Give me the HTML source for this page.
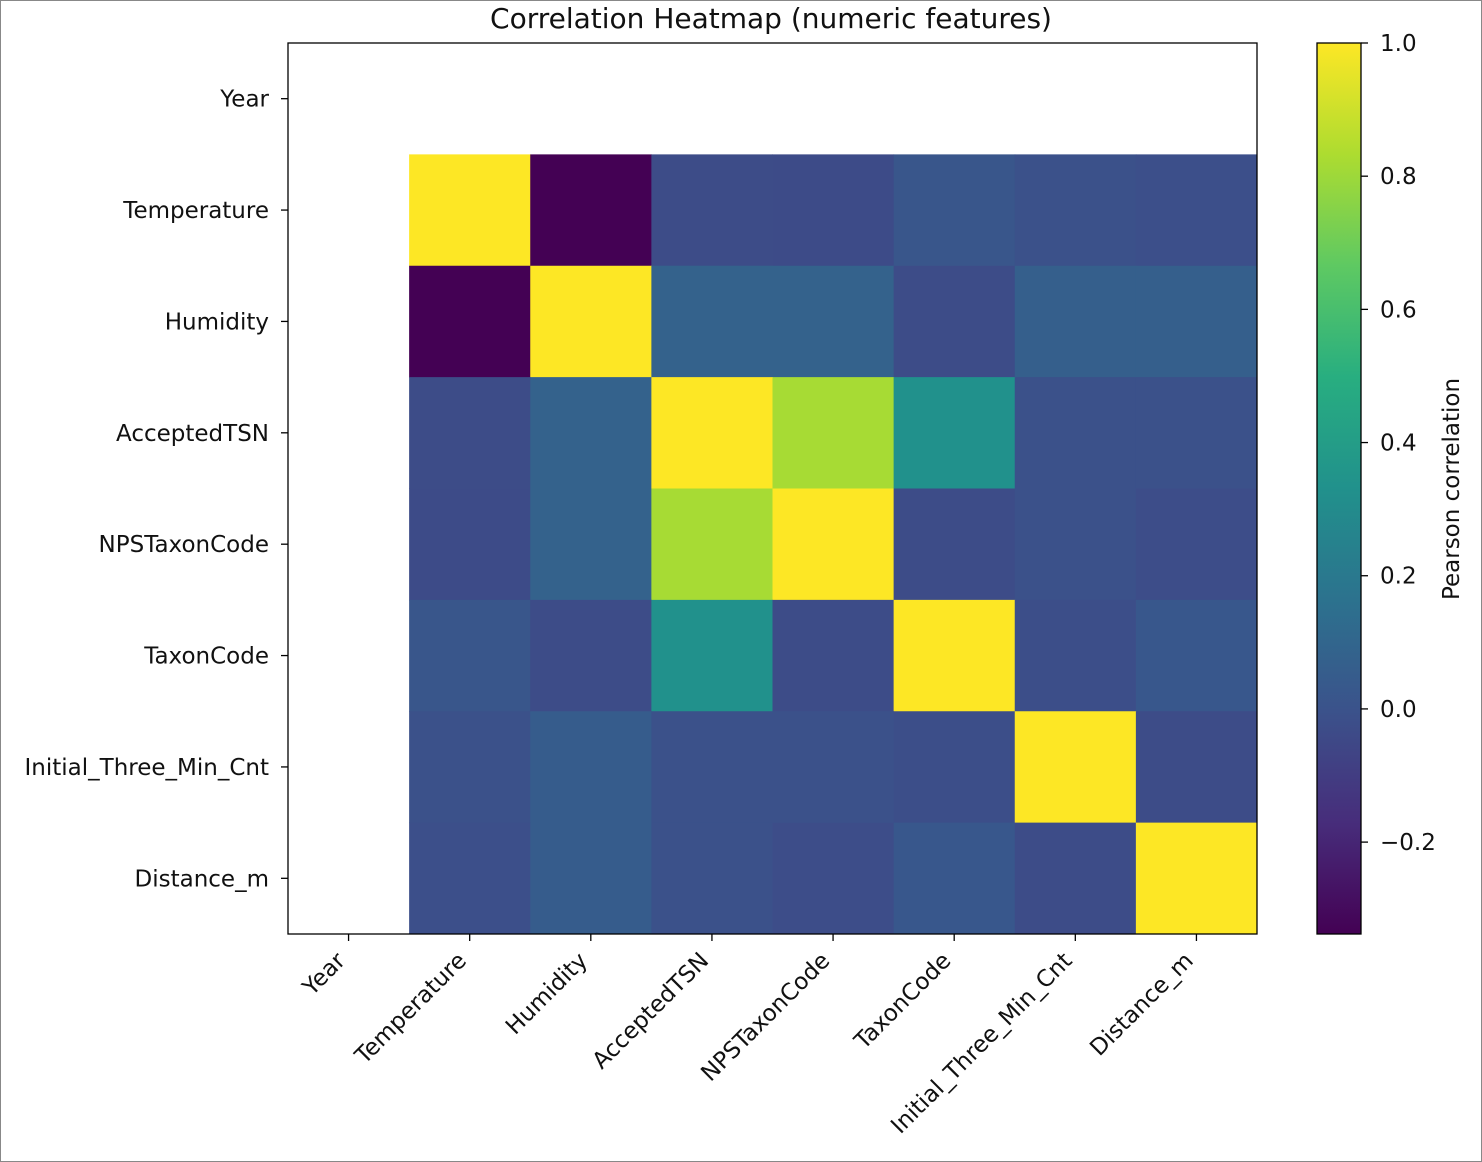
<!DOCTYPE html>
<html><head><meta charset="utf-8"><style>
html,body{margin:0;padding:0;background:#fff;}
svg{display:block;font-family:"DejaVu Sans","Liberation Sans",sans-serif;}
</style></head><body>
<svg id="chart" width="1482" height="1162" viewBox="0 0 1482 1162" xmlns="http://www.w3.org/2000/svg">
<defs>
<linearGradient id="vir" x1="0" y1="1" x2="0" y2="0">
<stop offset="0" stop-color="#440154"/><stop offset="0.125" stop-color="#472d7b"/><stop offset="0.25" stop-color="#3b528b"/><stop offset="0.375" stop-color="#2c728e"/><stop offset="0.5" stop-color="#21918c"/><stop offset="0.625" stop-color="#28ae80"/><stop offset="0.75" stop-color="#5ec962"/><stop offset="0.875" stop-color="#addc30"/><stop offset="1" stop-color="#fde725"/>
</linearGradient>
</defs>
<rect x="0.5" y="0.5" width="1481" height="1161" fill="#fff" stroke="#888"/>
<text x="771" y="28" font-size="28" text-anchor="middle" fill="#111">Correlation Heatmap (numeric features)</text>
<g id="cells"></g>
<rect x="288" y="43" width="969" height="891" fill="none" stroke="#000" stroke-width="1.3"/>
<g id="xaxis"></g>
<g id="yaxis"></g>
<rect x="1317" y="43" width="44" height="891" fill="url(#vir)" stroke="#000" stroke-width="1.3"/>
<g id="cbticks"></g>
<text transform="translate(1459,489) rotate(-90)" font-size="23" text-anchor="middle" fill="#111">Pearson correlation</text>
</svg>
<script>
const categories = ["Year","Temperature","Humidity","AcceptedTSN","NPSTaxonCode","TaxonCode","Initial_Three_Min_Cnt","Distance_m"];
const corrTemperature = [null, 1, -0.338, -0.03, -0.035, 0.02, -0.01, -0.015];
const corrHumidity = [null, -0.338, 1, 0.08, 0.08, -0.03, 0.065, 0.065];
const corrAcceptedTSN = [null, -0.03, 0.08, 1, 0.82, 0.33, -0.01, -0.01];
const corrNPSTaxonCode = [null, -0.035, 0.08, 0.82, 1, -0.03, -0.01, -0.025];
const corrTaxonCode = [null, 0.02, -0.03, 0.33, -0.03, 1, -0.02, 0.025];
const corrInitial = [null, -0.01, 0.05, -0.01, -0.01, -0.02, 1, -0.03];
const corrDistance = [null, -0.015, 0.05, -0.01, -0.025, 0.025, -0.03, 1];
const corrYear = [null, null, null, null, null, null, null, null];
const matrix = [corrYear, corrTemperature, corrHumidity, corrAcceptedTSN, corrNPSTaxonCode, corrTaxonCode, corrInitial, corrDistance];
const cbTickValues = [1.0, 0.8, 0.6, 0.4, 0.2, 0.0, -0.2];
const cbTickLabels = ["1.0","0.8","0.6","0.4","0.2","0.0","\u22120.2"];
const vmin = -0.338, vmax = 1.0;

const NS = "http://www.w3.org/2000/svg";
const PX0 = 288, PX1 = 1257, PY0 = 43, PY1 = 934;
const n = categories.length;
const cw = (PX1 - PX0) / n, ch = (PY1 - PY0) / n;
function xPos(i){ return PX0 + i * cw; }
function yPos(j){ return PY0 + j * ch; }
function cbY(v){ return PY1 - (v - vmin) / (vmax - vmin) * (PY1 - PY0); }
const stops = [[68,1,84],[71,45,123],[59,82,139],[44,114,142],[33,145,140],[40,174,128],[94,201,98],[173,220,48],[253,231,37]];
function viridis(v){
  let t = Math.max(0, Math.min(1, (v - vmin) / (vmax - vmin)));
  const s = t * (stops.length - 1), k = Math.min(stops.length - 2, Math.floor(s)), f = s - k;
  const c = stops[k].map((a, idx) => Math.round(a + (stops[k+1][idx] - a) * f));
  return "rgb(" + c.join(",") + ")";
}
function mk(tag, attrs, parent){
  const e = document.createElementNS(NS, tag);
  for (const k in attrs) e.setAttribute(k, attrs[k]);
  parent.appendChild(e); return e;
}
const cells = document.getElementById("cells");
for (let r = 0; r < n; r++) for (let c = 0; c < n; c++) {
  const v = matrix[r][c];
  if (v === null) continue;
  const rect = mk("rect", {x: xPos(c), y: yPos(r), width: cw + 0.5, height: ch + 0.5, fill: viridis(v)}, cells);
  
  
}
const xa = document.getElementById("xaxis"), ya = document.getElementById("yaxis");
categories.forEach((name, i) => {
  const cx = xPos(i) + cw / 2, cy = yPos(i) + ch / 2;
  const tx = mk("line", {x1: cx, x2: cx, y1: PY1, y2: PY1 + 7, stroke: "#000", "stroke-width": 1.3}, xa);
  
  
  const lx = mk("text", {transform: "translate(" + (cx - 2) + "," + (PY1 + 28) + ") rotate(-45)", "font-size": 23, "text-anchor": "end", fill: "#111"}, xa);
  lx.textContent = name;
  
  
  const ty = mk("line", {x1: PX0 - 7, x2: PX0, y1: cy, y2: cy, stroke: "#000", "stroke-width": 1.3}, ya);
  
  
  const ly = mk("text", {x: PX0 - 19, y: cy + 8, "font-size": 23, "text-anchor": "end", fill: "#111"}, ya);
  ly.textContent = name;
  
  
});
const cb = document.getElementById("cbticks");
cbTickValues.forEach((v, i) => {
  const y = cbY(v);
  const t = mk("line", {x1: 1361, x2: 1368, y1: y, y2: y, stroke: "#000", "stroke-width": 1.3}, cb);
  
  
  const l = mk("text", {x: 1380, y: y + 8, "font-size": 23, fill: "#111"}, cb);
  l.textContent = cbTickLabels[i];
  
  
});
</script>
</body></html>
